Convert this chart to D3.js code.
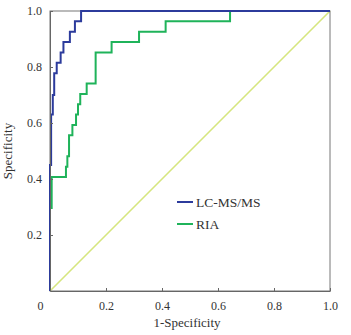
<!DOCTYPE html>
<html lang="en">
<head>
<meta charset="UTF-8">
<title>ROC</title>
<style>
body { margin: 0; background: #fff; }
text { font-family: "Liberation Serif", "Times New Roman", serif; fill: #333; }
.axis path, .axis line { stroke: #666; }
</style>
</head>
<body>
<svg width="351" height="335"></svg>
<script src="https://d3js.org/d3.v7.min.js"></script>
<script>
// step corners of each ROC curve (1-specificity, specificity)
var lcFpr = [0, 0, 0.004, 0.010, 0.015, 0.024, 0.038, 0.048, 0.071, 0.089, 0.111, 1];
var lcTpr = [0, 0.45, 0.63, 0.70, 0.778, 0.815, 0.852, 0.889, 0.926, 0.963, 1.0, 1.0];

var riaFpr = [0, 0, 0.006, 0.057, 0.062, 0.068, 0.080, 0.093, 0.100, 0.108, 0.131, 0.163, 0.220, 0.318, 0.413, 0.643, 1];
var riaTpr = [0, 0.296, 0.407, 0.444, 0.481, 0.556, 0.593, 0.630, 0.667, 0.704, 0.741, 0.852, 0.889, 0.926, 0.963, 1.0, 1.0];

var xTicks = [0, 0.2, 0.4, 0.6, 0.8, 1.0];
var yTicks = [0.2, 0.4, 0.6, 0.8, 1.0];

var series = [
    { name: "LC-MS/MS", color: "#2c3b9c", fpr: lcFpr, tpr: lcTpr },
    { name: "RIA", color: "#1fb35a", fpr: riaFpr, tpr: riaTpr }
];

var svg = d3.select("svg"),
    margin = { top: 11, right: 21, bottom: 44, left: 50 },
    width = +svg.attr("width") - margin.left - margin.right,
    height = +svg.attr("height") - margin.top - margin.bottom,
    g = svg.append("g").attr("transform", "translate(" + margin.left + "," + margin.top + ")");

var x = d3.scaleLinear().domain([0, 1]).range([0, width]);
var y = d3.scaleLinear().domain([0, 1]).range([height, 0]);

// chance line
g.append("line")
    .attr("x1", x(0)).attr("y1", y(0))
    .attr("x2", x(1)).attr("y2", y(1))
    .attr("stroke", "#d6e67e")
    .attr("stroke-width", 1.6);

// frame
g.append("rect")
    .attr("width", width).attr("height", height)
    .attr("fill", "none")
    .attr("stroke", "#777")
    .attr("stroke-width", 1);

var line = d3.line()
    .x(function(d) { return x(d[0]); })
    .y(function(d) { return y(d[1]); })
    .curve(d3.curveStepAfter);

// green drawn first, blue on top
series.slice().reverse().forEach(function(s) {
    g.append("path")
        .datum(d3.zip(s.fpr, s.tpr))
        .attr("fill", "none")
        .attr("stroke", s.color)
        .attr("stroke-width", 2)
        .attr("d", line);
});

var xAxis = g.append("g")
    .attr("class", "axis")
    .attr("transform", "translate(0," + height + ")")
    .call(d3.axisBottom(x).tickValues(xTicks)
        .tickFormat(function(d) { return d === 0 ? "0" : d3.format(".1f")(d); })
        .tickSizeInner(-3).tickSizeOuter(0).tickPadding(10));
xAxis.selectAll("text").style("font-size", "12px").attr("fill", "#333");
// origin label sits left of the corner
xAxis.selectAll(".tick").filter(function(d) { return d === 0; })
    .select("text").attr("x", -10);

var yAxis = g.append("g")
    .attr("class", "axis")
    .call(d3.axisLeft(y).tickValues(yTicks)
        .tickFormat(d3.format(".1f"))
        .tickSizeInner(-3).tickSizeOuter(0).tickPadding(8));
yAxis.selectAll("text").style("font-size", "12px").attr("fill", "#333");

g.append("text")
    .attr("x", width / 2 - 3)
    .attr("y", height + 36)
    .attr("text-anchor", "middle")
    .style("font-size", "13px")
    .text("1-Specificity");

g.append("text")
    .attr("transform", "translate(" + (-38) + "," + (height / 2) + ") rotate(-90)")
    .attr("text-anchor", "middle")
    .style("font-size", "13px")
    .text("Specificity");

// legend
var legend = g.selectAll(".legend")
    .data(series)
    .enter().append("g")
    .attr("transform", function(d, i) { return "translate(127," + (191 + i * 22) + ")"; });

legend.append("line")
    .attr("x1", 0).attr("x2", 16)
    .attr("stroke", function(d) { return d.color; })
    .attr("stroke-width", 2);

legend.append("text")
    .attr("x", 19)
    .attr("dy", "0.35em")
    .style("font-size", "13.5px")
    .text(function(d) { return d.name; });
</script>
</body>
</html>
